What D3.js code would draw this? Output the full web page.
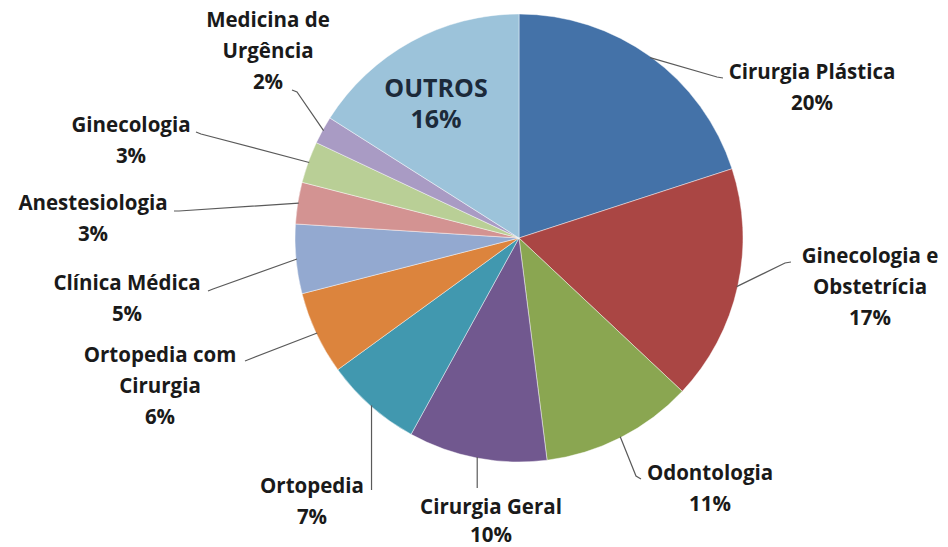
<!DOCTYPE html>
<html>
<head>
<meta charset="utf-8">
<script src="https://cdn.jsdelivr.net/npm/d3@7"></script>
<style>
  body { margin: 0; background: #ffffff; }
  svg { display: block; }
  .lbl { font-family: "Open Sans", Lato, sans-serif; font-weight: 700; font-size: 20.5px; fill: #1a1a1a; }
  .inner { font-family: "Open Sans", Lato, sans-serif; font-weight: 700; font-size: 25px; fill: #1c2a3a; }
</style>
</head>
<body>
<div id="chart"></div>
<script>
// chart data (percent of total)
const categories = [
  "Cirurgia Plástica",
  "Ginecologia e\nObstetrícia",
  "Odontologia",
  "Cirurgia Geral",
  "Ortopedia",
  "Ortopedia com\nCirurgia",
  "Clínica Médica",
  "Anestesiologia",
  "Ginecologia",
  "Medicina de\nUrgência",
  "OUTROS"
];
const shares = [20, 17, 11, 10, 7, 6, 5, 3, 3, 2, 16];
const colors = ["#4472A8", "#AA4644", "#8AA651", "#71588F", "#4198AF", "#DC843D",
                "#93A9D0", "#D39392", "#B9CF96", "#A99BC4", "#9CC3DA"];

// label placement (text centre, first baseline, leader elbow + hook end)
const labelLayout = [
  { tx: 812, ty: 79,  elbow: [717, 77],  hook: [723, 78] },
  { tx: 870, ty: 263, elbow: [785, 263], hook: [791, 262] },
  { tx: 710, ty: 480, elbow: [636, 476], hook: [641, 479] },
  { tx: 491, ty: 514, drop: 488 },
  { tx: 312, ty: 493, drop: 490 },
  { tx: 160, ty: 362, elbow: [250, 359], hook: [245, 361] },
  { tx: 127, ty: 290, elbow: [213, 289], hook: [208, 291] },
  { tx: 93,  ty: 210, elbow: [179, 211], hook: [174, 211] },
  { tx: 131, ty: 132, elbow: [201, 134], hook: [196, 132] },
  { tx: 268, ty: 27,  elbow: [297, 92],  hook: [292, 90] },
  { inside: true, tx: 436, ty: 97 }
];

const width = 948;
const height = 547;
const cx = 519;
const cy = 238;
const radius = 224;
const lineH = 31;

const svg = d3.select("#chart")
  .append("svg")
  .attr("width", width)
  .attr("height", height);

const g = svg.append("g").attr("transform", `translate(${cx},${cy})`);

const pie = d3.pie().value((d) => d.value).sort(null);
const arc = d3.arc().innerRadius(0).outerRadius(radius);
const edge = d3.arc().innerRadius(radius - 1).outerRadius(radius - 1);

const slices = pie(categories.map((c, i) => ({ label: c, value: shares[i] })));

g.selectAll("path.slice")
  .data(slices)
  .enter()
  .append("path")
  .attr("class", "slice")
  .attr("d", arc)
  .attr("fill", (d, i) => colors[i])
  .attr("stroke", "rgba(255,255,255,0.55)")
  .style("stroke-width", "0.8px");

// leader lines, from the slice edge to the label
slices.forEach((d, i) => {
  const L = labelLayout[i];
  if (L.inside) return;
  const [sx, sy] = edge.centroid(d).map((v, k) => v + (k === 0 ? cx : cy));
  const pts = L.drop ? [[sx, sy], [sx, L.drop]] : [[sx, sy], L.elbow, L.hook];
  svg.append("path")
    .attr("d", d3.line()(pts))
    .attr("fill", "none")
    .attr("stroke", "#5a5a5a")
    .attr("stroke-width", 1.2);
});

// labels
slices.forEach((d, i) => {
  const L = labelLayout[i];
  const lines = d.data.label.split("\n").concat([d.data.value + "%"]);
  const t = svg.append("text")
    .attr("class", L.inside ? "inner" : "lbl")
    .attr("text-anchor", "middle");
  lines.forEach((s, k) => {
    t.append("tspan")
      .attr("x", L.tx)
      .attr("y", L.ty + k * (L.inside ? 31 : (i === 3 ? 28 : lineH)))
      .text(s);
  });
});
</script>
</body>
</html>
